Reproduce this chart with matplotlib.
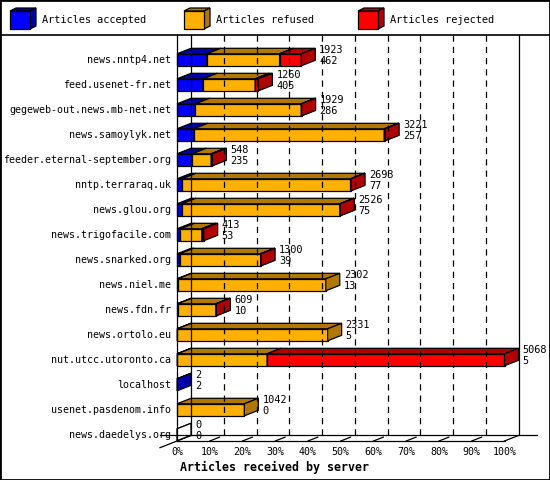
import matplotlib
matplotlib.use("Agg")
import matplotlib.pyplot as plt
from matplotlib.patches import Polygon, Rectangle
from matplotlib.lines import Line2D

plt.rcParams['font.family'] = ['DejaVu Sans Mono']

# data
servers = ["news.nntp4.net", "feed.usenet-fr.net", "gegeweb-out.news.mb-net.net",
           "news.samoylyk.net", "feeder.eternal-september.org", "nntp.terraraq.uk",
           "news.glou.org", "news.trigofacile.com", "news.snarked.org", "news.niel.me",
           "news.fdn.fr", "news.ortolo.eu", "nut.utcc.utoronto.ca", "localhost",
           "usenet.pasdenom.info", "news.daedelys.org"]
accepted = [462, 405, 286, 257, 235, 77, 75, 53, 39, 13, 10, 5, 5, 2, 0, 0]
refused = [1125, 805, 1638, 2950, 294, 2608, 2445, 330, 1255, 2289, 591, 2326, 1390, 0, 1042, 0]
rejected = [336, 50, 5, 14, 19, 8, 6, 30, 6, 0, 8, 0, 3673, 0, 0, 0]
series = ["Articles accepted", "Articles refused", "Articles rejected"]
pct_ticks = list(range(0, 101, 10))

# (front colour, shaded colour)
colors = [("#0000ff", "#0000a8"), ("#ffb000", "#b07800"), ("#ff0000", "#b00000")]

W, H = 550, 480
fig = plt.figure(figsize=(W / 100, H / 100), dpi=100)

# plot box in pixels
left_px, right_px, top_px, bot_px = 177, 504.5, 35, 441
row0_px, row_step = 59.3, 25.0
ax = fig.add_axes([left_px / W, 1 - bot_px / H, (right_px - left_px) / W, (bot_px - top_px) / H])
ax.set_xlim(0, 100)
ax.set_ylim((bot_px - row0_px) / row_step, (top_px - row0_px) / row_step)
y_top_row, y_bot_row = ax.get_ylim()[1], ax.get_ylim()[0]

px_per_pct = (right_px - left_px) / 100
DX = 14 / px_per_pct        # depth in percent units
DY = -5.5 / row_step        # depth in row units
lw = 0.9

for s in ["top", "right"]:
    ax.spines[s].set_visible(False)
for s in ["left", "bottom"]:
    ax.spines[s].set_linewidth(lw)
ax.set_facecolor("none")

ax.set_yticks(range(len(servers)))
ax.set_yticklabels(servers, fontsize=7.2)
ax.set_xticks(pct_ticks)
ax.set_xticklabels([f"{p}%" for p in pct_ticks], fontsize=7.2)
ax.tick_params(length=0, pad=4)

back_floor = y_bot_row + DY
# back walls and grid
for p in pct_ticks:
    if p in (0, 100):
        ax.add_line(Line2D([p + DX, p + DX], [y_top_row, back_floor], color="black", lw=lw, clip_on=False))
    else:
        ax.add_line(Line2D([p + DX, p + DX], [y_top_row, back_floor], color="black", lw=lw,
                           linestyle=(0, (5, 4)), clip_on=False))
        ax.add_line(Line2D([p, p + DX * 0.7], [y_bot_row, y_bot_row + DY * 0.7], color="black", lw=lw, clip_on=False))

# floor edges
ext = 17 / px_per_pct
ax.add_line(Line2D([-ext, 109.9], [back_floor, back_floor], color="black", lw=lw, clip_on=False))
ax.add_line(Line2D([-ext, DX], [y_bot_row - DY * ext / DX, back_floor], color="black", lw=lw, clip_on=False))
ax.add_line(Line2D([100, 100 + DX], [y_bot_row, back_floor], color="black", lw=lw, clip_on=False))


def box(x0, x1, y, face, shade):
    yt, yb = y - 0.22, y + 0.26
    polys = [
        ([(x0, yb), (x1, yb), (x1, yt), (x0, yt)], face),
        ([(x0, yt), (x1, yt), (x1 + DX, yt + DY), (x0 + DX, yt + DY)], shade),
        ([(x1, yb), (x1, yt), (x1 + DX, yt + DY), (x1 + DX, yb + DY)], shade),
    ]
    for pts, c in polys:
        ax.add_patch(Polygon(pts, closed=True, facecolor=c, edgecolor="black", lw=lw, clip_on=False))


totals = [a + r + j for a, r, j in zip(accepted, refused, rejected)]
vmax = max(totals)
for i, name in enumerate(servers):
    x = 0
    vals = [accepted[i], refused[i], rejected[i]]
    if totals[i] == 0:
        box(0, 0, i, "white", "white")
    for v, (face, shade) in zip(vals, colors):
        if v == 0:
            continue
        w = v / vmax * 100
        box(x, x + w, i, face, shade)
        x += w
    lx = x + DX + 4 / px_per_pct
    ax.text(lx, i - 0.38, str(totals[i]), fontsize=7.4, va="center", ha="left", clip_on=False)
    ax.text(lx, i + 0.06, str(accepted[i]), fontsize=7.4, va="center", ha="left", clip_on=False)

# legend strip on top
lg = fig.add_axes([0, 1 - 34 / H, 1, 34 / H])
lg.set_xlim(0, W)
lg.set_ylim(34, 0)
lg.axis("off")
for k, (label, (face, shade)) in enumerate(zip(series, colors)):
    x0 = 10 + 174 * k
    x1, y0, y1 = x0 + 20, 11, 29
    lg.add_patch(Polygon([(x0, y0), (x1, y0), (x1 + 6, y0 - 3), (x0 + 6, y0 - 3)], facecolor=shade, edgecolor="black", lw=lw))
    lg.add_patch(Polygon([(x1, y1), (x1, y0), (x1 + 6, y0 - 3), (x1 + 6, y1 - 3)], facecolor=shade, edgecolor="black", lw=lw))
    lg.add_patch(Rectangle((x0, y0), 20, 18, facecolor=face, edgecolor="black", lw=lw))
    lg.text(x0 + 32, 20, label, fontsize=7.4, va="center", ha="left")

fig.add_artist(Line2D([0, 1], [1 - 34.5 / H, 1 - 34.5 / H], color="black", lw=1.2, transform=fig.transFigure))
fig.add_artist(Rectangle((0, 0), 1, 1, transform=fig.transFigure, fill=False, edgecolor="black", lw=2))

fig.text(0.5, 1 - 467 / H, "Articles received by server", ha="center", va="center",
         fontsize=8.4, fontweight="bold")

fig.savefig("out.png", dpi=100)
